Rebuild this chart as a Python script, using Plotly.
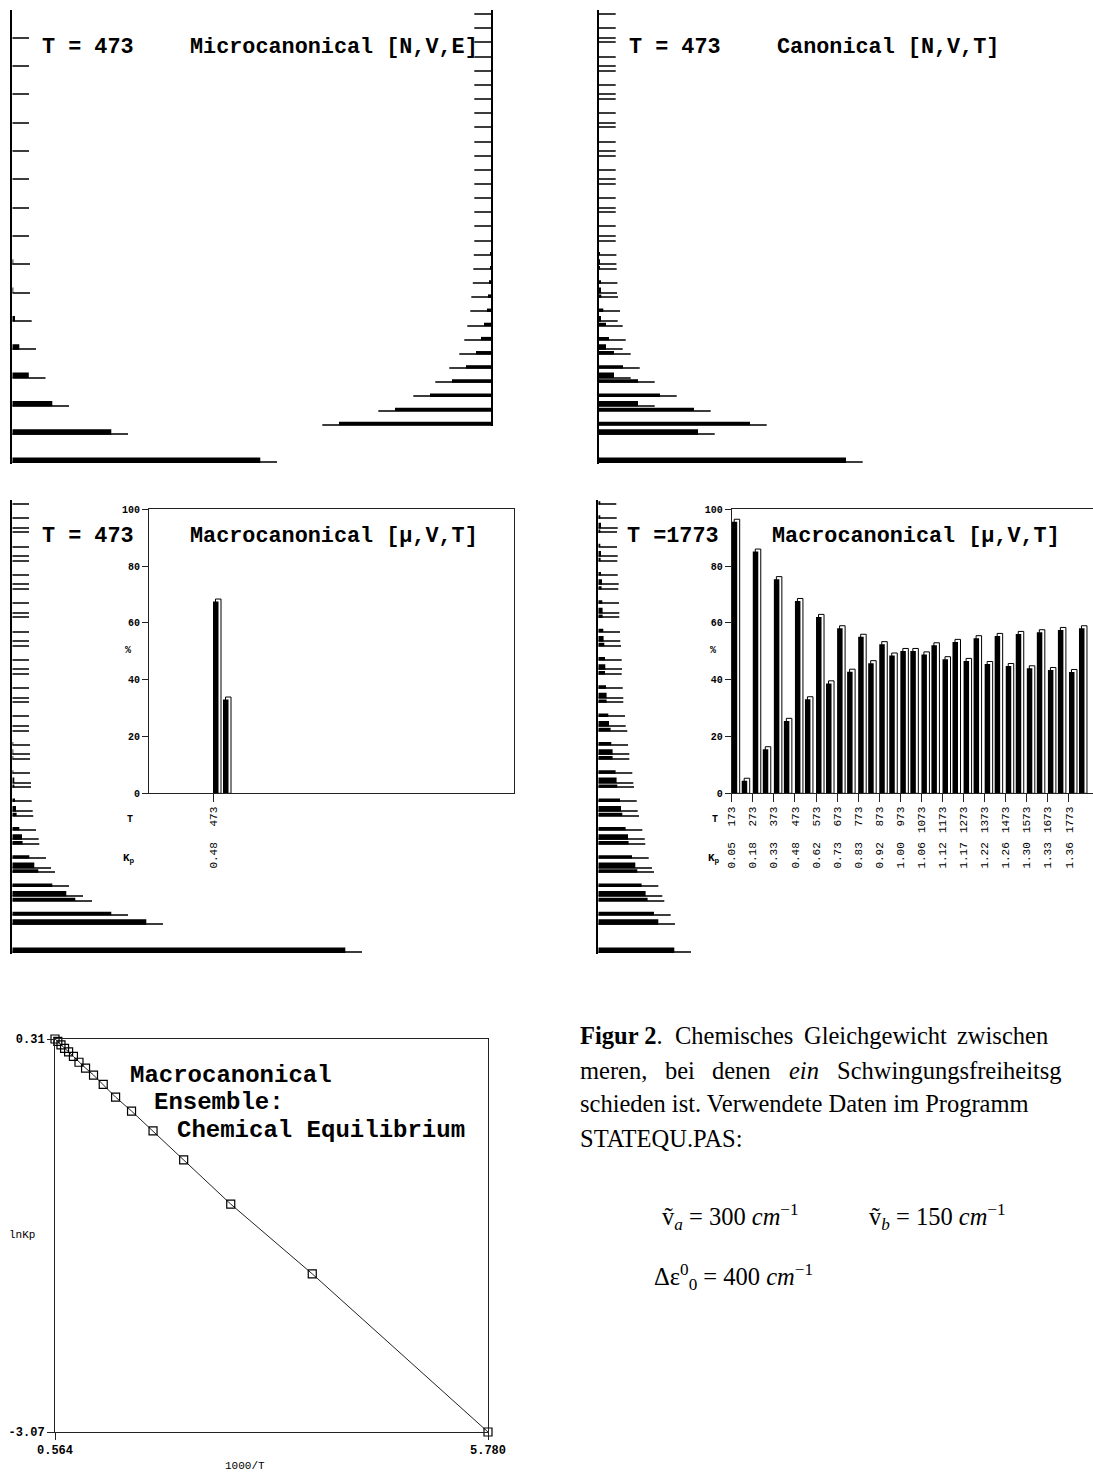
import plotly.graph_objects as go

W, H = 1093, 1474

# ---------------- data ----------------
# energy levels (cm^-1) of the two isomers
levels_A = [0, 300, 600, 900, 1200, 1500, 1800, 2100, 2400, 2700, 3000, 3300, 3600, 3900, 4200, 4500]
levels_B = [400, 550, 700, 850, 1000, 1150, 1300, 1450, 1600, 1750, 1900, 2050, 2200, 2350, 2500,
            2650, 2800, 2950, 3100, 3250, 3400, 3550, 3700, 3850, 4000, 4150, 4300, 4450, 4600, 4750]

# level populations (arbitrary units)
micro_A = [248, 99, 40, 16.5, 7, 2.7, 1, 1, 0, 0, 0, 0, 0, 0, 0, 0]
micro_B = [152, 96, 61, 39, 25, 15, 10, 7, 4, 3, 1.5, 1, 0.5, 0, 0,
           0, 0, 0, 0, 0, 0, 0, 0, 0, 0, 0, 0, 0, 0, 0]
canon_A = [247, 99, 39, 15, 7, 2, 1.3, 0.7, 0, 0, 0, 0, 0, 0, 0, 0]
canon_B = [151, 95, 61, 39, 24, 15, 10, 7, 4.3, 2.3, 1.7, 1, 0.7, 0, 0,
           0, 0, 0, 0, 0, 0, 0, 0, 0, 0, 0, 0, 0, 0, 0]
macro473_A = [333, 134, 54, 22, 9.7, 3.7, 2, 1, 0, 0, 0, 0, 0, 0, 0, 0]
macro473_B = [99, 63, 40, 26, 17, 10.3, 7, 4.3, 2.7, 2, 1, 1, 1, 0, 0,
              0, 0, 0, 0, 0, 0, 0, 0, 0, 0, 0, 0, 0, 0, 0]
macro1773_A = [76, 60, 47.3, 37, 29.7, 22.7, 18.3, 14.3, 10.7, 8.3, 7, 5.3, 4.3, 3.7, 2.7, 2.7]
macro1773_B = [55.7, 49.3, 43.3, 39, 33.7, 30.3, 27.3, 24, 21.7, 19, 17.3, 14.3, 13, 12.3, 10,
               8.3, 7.7, 6.7, 6.7, 6, 5, 4.3, 4, 3.3, 2.7, 2.3, 2, 2, 1.7, 1.3]

# equilibrium composition (%)
T_single = ['473']
Kp_single = ['0.48']
pctA_single = [67.5]
pctB_single = [33.0]

T_vals = ['173', '273', '373', '473', '573', '673', '773', '873', '973', '1073',
          '1173', '1273', '1373', '1473', '1573', '1673', '1773']
Kp_vals = ['0.05', '0.18', '0.33', '0.48', '0.62', '0.73', '0.83', '0.92', '1.00', '1.06',
           '1.12', '1.17', '1.22', '1.26', '1.30', '1.33', '1.36']
pctA = [95.6, 85.1, 75.4, 67.7, 62.1, 58.1, 55.1, 52.5, 50.1, 48.9, 47.2, 46.6, 45.5, 44.8, 44.0, 43.4, 42.7]
pctB = [4.4, 15.5, 25.5, 33.1, 38.7, 42.8, 45.8, 48.5, 50.1, 52.1, 53.3, 54.6, 55.4, 56.1, 56.7, 57.5, 58.1]

# van 't Hoff plot
inv_T = [5.780, 3.663, 2.681, 2.114, 1.745, 1.486, 1.294, 1.145, 1.028, 0.932,
         0.853, 0.786, 0.728, 0.679, 0.636, 0.598, 0.564]
ln_Kp = [-3.07, -1.71, -1.11, -0.73, -0.48, -0.31, -0.19, -0.08, 0.00, 0.06,
         0.11, 0.16, 0.20, 0.23, 0.26, 0.29, 0.31]

# ---------------- helpers ----------------
K = 0.0944          # px per cm^-1
LINE_EXT = 16.7     # level line extends beyond bar (px units)
MONO = 'Liberation Mono'
SERIF = 'Liberation Serif'

def dx(l, r):
    return [max(0.0, l / W), min(1.0, r / W)]

def dy(t, b):
    return [1 - b / H, 1 - t / H]

def erange(a0, t, b):
    return [(a0 - b) / K, (a0 - t) / K]

def px(x):
    return x / W

def py(y):
    return 1 - y / H

fig = go.Figure()
lay = {}
n_ax = [0]

def axes(xkw, ykw):
    n_ax[0] += 1
    n = n_ax[0]
    s = '' if n == 1 else str(n)
    xkw = dict(xkw); ykw = dict(ykw)
    xkw['anchor'] = 'y' + s
    ykw['anchor'] = 'x' + s
    xkw['automargin'] = False
    ykw['automargin'] = False
    lay['xaxis' + s] = xkw
    lay['yaxis' + s] = ykw
    return 'x' + s, 'y' + s

def diagram(xl, xr, yt, yb, a0, side='left'):
    w = xr - xl
    xr_ = [w, 0] if side == 'right' else [0, w]
    return axes(
        dict(domain=dx(xl, xr), range=xr_, visible=False, fixedrange=True),
        dict(domain=dy(yt, yb), range=erange(a0, yt, yb), side=side, showline=True,
             linecolor='black', linewidth=1.6, ticks='', showticklabels=False,
             showgrid=False, zeroline=False))

def levels(xa, ya, lv, pops, bw):
    fig.add_trace(go.Bar(orientation='h', y=lv, x=[p + LINE_EXT for p in pops], width=11, offset=0,
                         marker=dict(color='#3c3c3c', line=dict(width=0)),
                         xaxis=xa, yaxis=ya, hoverinfo='skip'))
    fig.add_trace(go.Bar(orientation='h', y=lv, x=pops, width=bw, offset=0,
                         marker=dict(color='black', line=dict(width=0)),
                         xaxis=xa, yaxis=ya, hoverinfo='skip'))

BW_A, BW_B = 58, 36

# top-left microcanonical
xa, ya = diagram(12.3, 300, 10, 463.5, 463.0)
levels(xa, ya, levels_A, micro_A, BW_A)
xa, ya = diagram(200, 491, 10, 426, 463.0, side='right')
levels(xa, ya, levels_B, micro_B, BW_B)

# top-right canonical
xa, ya = diagram(599, 900, 10, 463.5, 463.0)
levels(xa, ya, levels_B, canon_B, BW_B)
levels(xa, ya, levels_A, canon_A, BW_A)

# bottom-left macrocanonical 473
xa, ya = diagram(12.3, 380, 500, 953.5, 953.0)
levels(xa, ya, levels_B, macro473_B, BW_B)
levels(xa, ya, levels_A, macro473_A, BW_A)

# bottom-right macrocanonical 1773
xa, ya = diagram(598.3, 720, 500, 953.5, 953.0)
levels(xa, ya, levels_B, macro1773_B, BW_B)
levels(xa, ya, levels_A, macro1773_A, BW_A)

# ---- composition insets ----
UNIT = 21.08   # px per category
BW = 5.5 / UNIT
SIDE_DX = 2.5 / UNIT
B_OFF = 10 / UNIT
TOP_D = 0.9

def inset(xl, xr, first, mirror_y):
    return axes(
        dict(domain=dx(xl, xr), type='category', range=[first, first + (xr - xl) / UNIT],
             showline=True, mirror=True, linecolor='#222', linewidth=1,
             ticks='outside', ticklen=8, tickcolor='#222', tickangle=-90,
             tickfont=dict(family=MONO, size=11, color='black'), showgrid=False, zeroline=False),
        dict(domain=dy(509.3, 793.3), range=[0, 100], tickvals=[0, 20, 40, 60, 80, 100],
             showline=True, mirror=mirror_y, linecolor='#222', linewidth=1,
             ticks='outside', ticklen=6, tickcolor='#222',
             tickfont=dict(family=MONO, size=10, color='black', weight='bold'),
             showgrid=False, zeroline=False))

def columns(xa, ya, cats, vals, off):
    fig.add_trace(go.Bar(x=cats, y=[v + TOP_D for v in vals], offset=off + SIDE_DX, width=BW,
                         marker=dict(color='white', line=dict(color='black', width=1)),
                         xaxis=xa, yaxis=ya, hoverinfo='skip'))
    fig.add_trace(go.Bar(x=cats, y=vals, offset=off, width=BW,
                         marker=dict(color='black', line=dict(width=0)),
                         xaxis=xa, yaxis=ya, hoverinfo='skip'))

X1_RANGE = [-64 / UNIT, -64 / UNIT + 365 / UNIT]
X2_RANGE = [0, (1093 - 731.7) / UNIT]

xi1, yi1 = inset(149, 514, X1_RANGE[0], True)
columns(xi1, yi1, T_single, pctA_single, 0)
columns(xi1, yi1, T_single, pctB_single, B_OFF)

xi2, yi2 = inset(731.7, 1093, 0, False)
columns(xi2, yi2, T_vals, pctA, 0)
columns(xi2, yi2, T_vals, pctB, B_OFF)

# ---- Kp label rows: free overlaying category axes below the temperature labels ----
def kp_axis(name, over, ya, rng, labels):
    lay['xaxis' + name] = dict(type='category', overlaying=over, anchor='free', position=py(839),
                               range=rng, tickangle=-90, ticks='', showline=False, showgrid=False,
                               zeroline=False, automargin=False,
                               tickfont=dict(family=MONO, size=11, color='black'))
    fig.add_trace(go.Scatter(x=labels, y=[0] * len(labels), mode='markers',
                             marker=dict(opacity=0, size=1), xaxis='x' + name, yaxis=ya,
                             hoverinfo='skip'))

kp_axis('20', xi1, yi1, X1_RANGE, Kp_single)
kp_axis('21', xi2, yi2, X2_RANGE, Kp_vals)

# ---- van 't Hoff plot ----
xv, yv = axes(
    dict(domain=dx(55, 488), range=[0.564, 5.780], tickvals=[0.564, 5.780], ticktext=['0.564', '5.780'],
         showline=True, mirror=True, linecolor='#222', linewidth=1, ticks='outside', ticklen=7,
         tickcolor='#222', tickfont=dict(family=MONO, size=12, color='black', weight='bold'),
         showgrid=False, zeroline=False),
    dict(domain=dy(1039, 1432), range=[-3.07, 0.31], tickvals=[-3.07, 0.31], ticktext=['-3.07', '0.31'],
         showline=True, mirror=True, linecolor='#222', linewidth=1, ticks='outside', ticklen=7,
         tickcolor='#222', tickfont=dict(family=MONO, size=12, color='black', weight='bold'),
         showgrid=False, zeroline=False))
fig.add_trace(go.Scatter(x=inv_T, y=ln_Kp, mode='lines+markers', cliponaxis=False,
                         line=dict(color='#222', width=1),
                         marker=dict(symbol='square-open', size=8, color='black', line=dict(width=1.2)),
                         xaxis=xv, yaxis=yv, hoverinfo='skip'))

# ---------------- annotations ----------------
ann = []

def text(x, y, s, size, family=MONO, bold=False, xanchor='left', yanchor='middle', angle=0,
         color='black'):
    ann.append(dict(x=px(x), y=py(y), xref='paper', yref='paper', text=s,
                    showarrow=False, xanchor=xanchor, yanchor=yanchor, textangle=angle,
                    font=dict(family=family, size=size, color=color,
                              weight='bold' if bold else 'normal')))

TS = 21.8
text(40, 47, 'T = 473', TS, bold=True)
text(188, 47, 'Microcanonical [N,V,E]', TS, bold=True)
text(627, 47, 'T = 473', TS, bold=True)
text(775, 47, 'Canonical [N,V,T]', TS, bold=True)
text(40, 537, 'T = 473', TS, bold=True)
text(188, 537, 'Macrocanonical [μ,V,T]', TS, bold=True)
text(625, 537, 'T =1773', TS, bold=True)
text(770, 537, 'Macrocanonical [μ,V,T]', TS, bold=True)

# inset side labels
for xc in (128, 713):
    text(xc, 651, '%', 10, bold=True, xanchor='center')
    text(xc + 2, 819, 'T', 10, bold=True, xanchor='center')
    text(xc + 1, 859, 'K<sub>p</sub>', 11, bold=True, xanchor='center')

# van 't Hoff texts
text(128, 1075, 'Macrocanonical', 24, bold=True)
text(152, 1102.5, 'Ensemble:', 24, bold=True)
text(175, 1130, 'Chemical Equilibrium', 24, bold=True)
text(7, 1235, 'lnKp', 11)
text(245, 1466, '1000/T', 11, xanchor='center')

# caption
CS = 24.5
text(578, 1035, '<b>Figur 2</b>.', CS, family=SERIF)
text(673, 1035, 'Chemisches', CS, family=SERIF)
text(802, 1035, 'Gleichgewicht', CS, family=SERIF)
text(955, 1035, 'zwischen', CS, family=SERIF)
text(578, 1070, 'meren,', CS, family=SERIF)
text(663, 1070, 'bei', CS, family=SERIF)
text(710, 1070, 'denen', CS, family=SERIF)
text(787, 1070, '<i>ein</i>', CS, family=SERIF)
text(835, 1070, 'Schwingungsfreiheitsg', CS, family=SERIF)
text(578, 1103.4, 'schieden ist. Verwendete Daten im Programm', CS, family=SERIF)
text(578, 1138.4, 'STATEQU.PAS:', CS, family=SERIF)
text(660, 1216.7, 'ṽ<sub><i>a</i></sub> = 300 <i>cm</i><sup>−1</sup>', CS, family=SERIF)
text(867, 1216.7, 'ṽ<sub><i>b</i></sub> = 150 <i>cm</i><sup>−1</sup>', CS, family=SERIF)
text(652, 1276.7, 'Δε<sup>0</sup><sub>0</sub> = 400 <i>cm</i><sup>−1</sup>', CS, family=SERIF)

lay.update(dict(width=W, height=H, margin=dict(l=0, r=0, t=0, b=0, pad=0, autoexpand=False),
                paper_bgcolor='white', plot_bgcolor='rgba(0,0,0,0)',
                barmode='overlay', showlegend=False, annotations=ann))
fig.update_layout(**lay)
fig.write_html('out.html', config={'displayModeBar': False},
               post_script="document.body.style.margin='0';document.body.style.overflow='hidden';")
